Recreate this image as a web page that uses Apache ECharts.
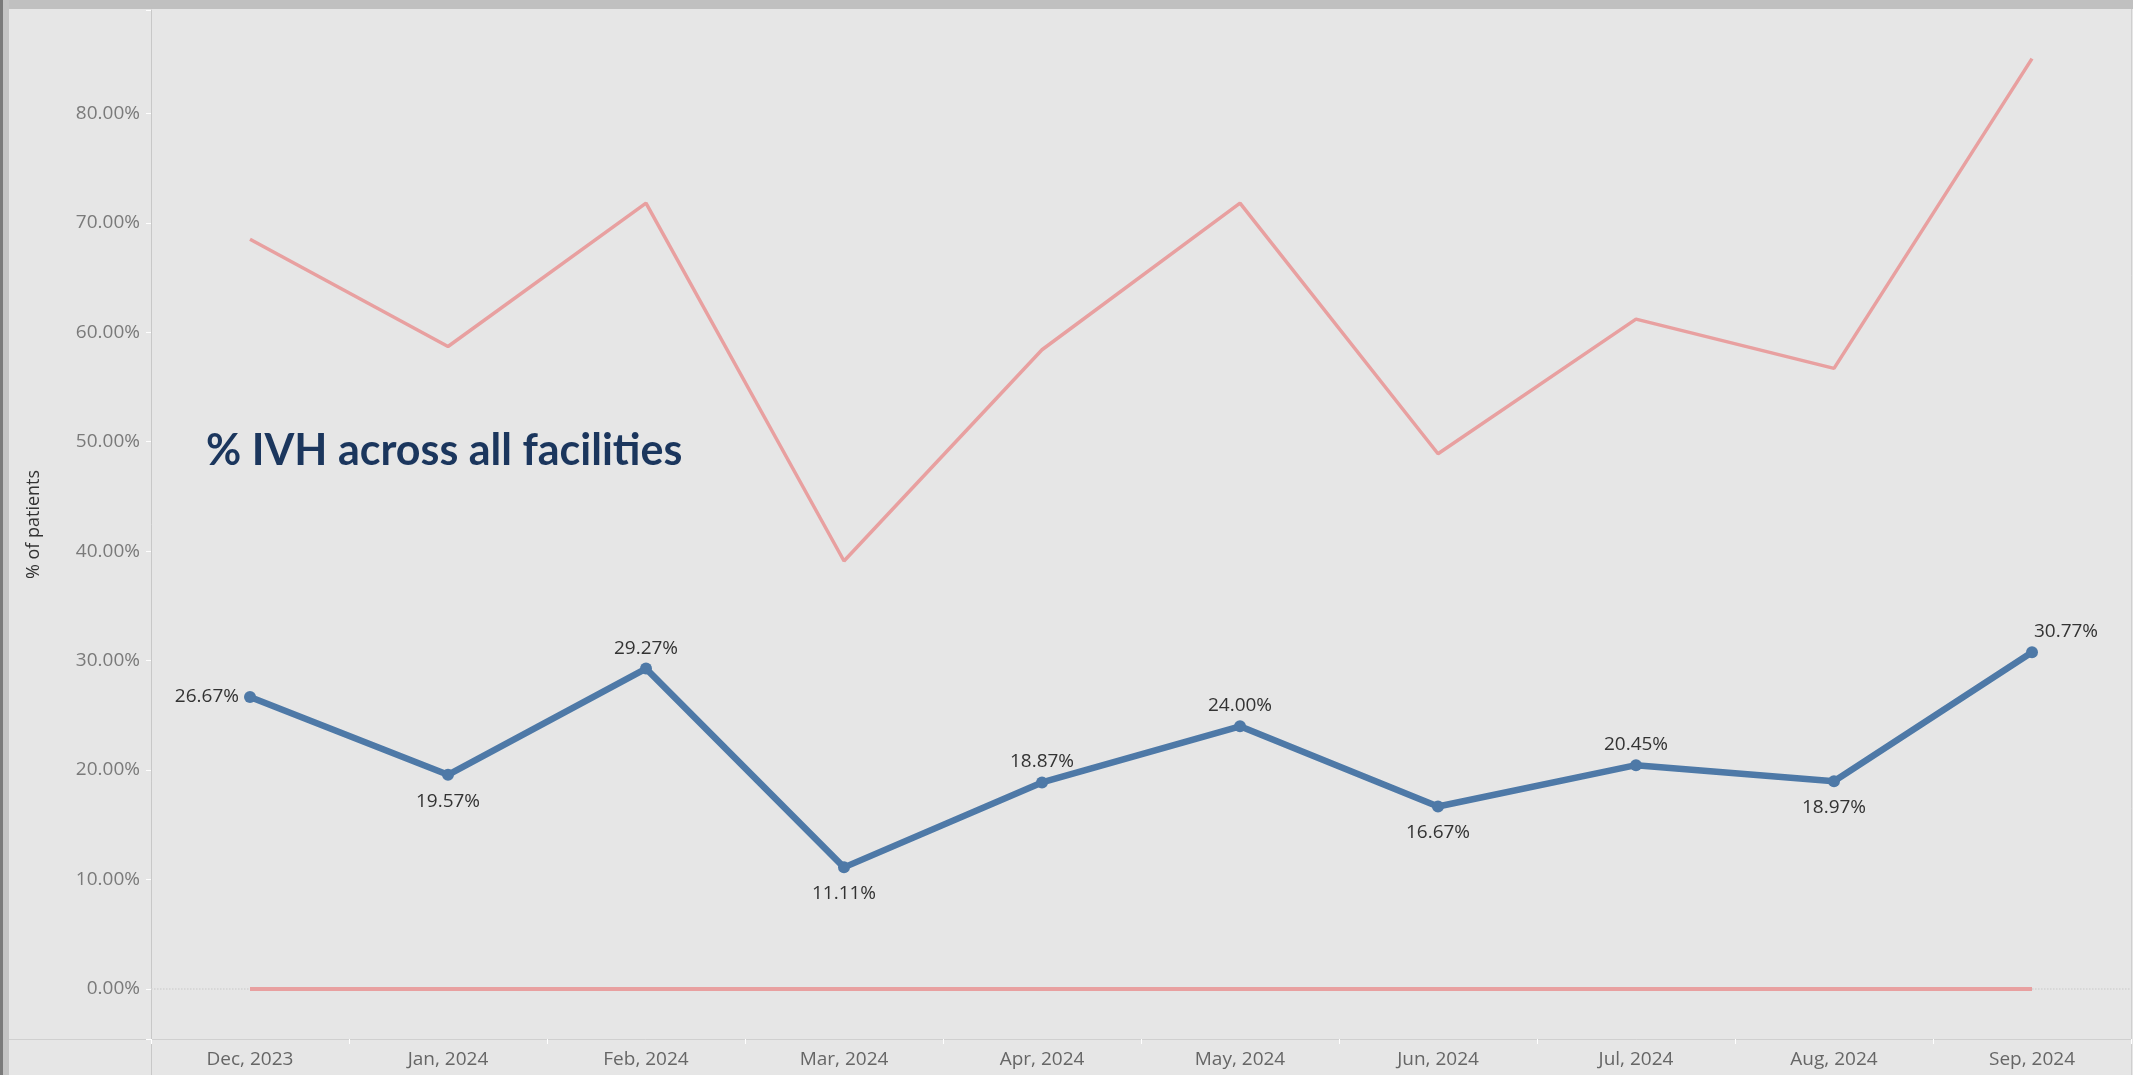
<!DOCTYPE html>
<html>
<head>
<meta charset="utf-8">
<title>% IVH across all facilities</title>
<script src="https://cdn.jsdelivr.net/npm/echarts@6/dist/echarts.min.js"></script>
<style>
    html, body { margin: 0; padding: 0; background: #e6e6e6; }
    #chart { width: 2133px; height: 1075px; }
</style>
</head>
<body>
<div id="chart"></div>
<script>
// 月份
var months = ['Dec, 2023', 'Jan, 2024', 'Feb, 2024', 'Mar, 2024', 'Apr, 2024',
              'May, 2024', 'Jun, 2024', 'Jul, 2024', 'Aug, 2024', 'Sep, 2024'];

// % IVH (blue line, labelled)
var ivhRate = [26.67, 19.57, 29.27, 11.11, 18.87, 24.00, 16.67, 20.45, 18.97, 30.77];

// upper / lower reference lines (red)
var upperRate = [68.5, 58.7, 71.8, 39.1, 58.4, 71.8, 48.9, 61.2, 56.7, 85.0];
var lowerRate = [0, 0, 0, 0, 0, 0, 0, 0, 0, 0];

// y axis tick labels
var yTicks = [0, 10, 20, 30, 40, 50, 60, 70, 80];

// where each blue label sits
var labelSide = ['left', 'bottom', 'top', 'bottom', 'top', 'top', 'bottom', 'top', 'bottom', 'top'];

var font = '"Open Sans", "DejaVu Sans", sans-serif';

var chart = echarts.init(document.getElementById('chart'));

var ivhData = ivhRate.map(function (v, i) {
    var side = labelSide[i];
    var lbl = { position: side, distance: side == 'bottom' ? 11 : 5 };
    if (i == ivhRate.length - 1) {
        lbl.offset = [34, 0];
    }
    return { value: v, label: lbl };
});

var option = {
    backgroundColor: '#e6e6e6',
    animation: false,
    grid: {
        left: 151,
        right: 2,
        top: 10,
        bottom: 36
    },
    xAxis: {
        type: 'category',
        data: months,
        boundaryGap: true,
        axisLine: { onZero: false, lineStyle: { color: '#d0d0d0', width: 1 } },
        axisTick: { show: true, length: 5, lineStyle: { color: '#ffffff', width: 1 } },
        axisLabel: { color: '#666666', fontSize: 19, fontFamily: font, margin: 11 }
    },
    yAxis: {
        type: 'value',
        min: -4.57,
        max: 89.44,
        splitNumber: 9,
        name: '% of patients',
        nameLocation: 'middle',
        nameRotate: 90,
        nameGap: 108,
        nameTextStyle: { color: '#333333', fontSize: 18, fontFamily: font },
        axisLine: { show: true, lineStyle: { color: '#c8c8c8', width: 1 } },
        axisTick: { show: true, length: 5, lineStyle: { color: '#ffffff', width: 1 } },
        splitLine: { show: false },
        axisLabel: {
            color: '#7a7a7a',
            fontSize: 19,
            fontFamily: font,
            margin: 11,
            formatter: function (v) {
                for (var i = 0; i < yTicks.length; i++) {
                    if (Math.abs(v - yTicks[i]) < 1e-6) return yTicks[i].toFixed(2) + '%';
                }
                return '';
            }
        }
    },
    graphic: [
        // 外框
        { type: 'rect', shape: { x: 0, y: 0, width: 2133, height: 9 }, style: { fill: '#c0c0c0' }, silent: true },
        { type: 'rect', shape: { x: 0, y: 0, width: 9, height: 1075 }, style: { fill: '#c4c4c4' }, silent: true },
        { type: 'rect', shape: { x: 0, y: 0, width: 3, height: 1075 }, style: { fill: '#7a7a7a' }, silent: true },
        { type: 'line', shape: { x1: 9, y1: 1039.5, x2: 151, y2: 1039.5 }, style: { stroke: '#d0d0d0', lineWidth: 1 }, silent: true },
        { type: 'line', shape: { x1: 151.5, y1: 1039, x2: 151.5, y2: 1075 }, style: { stroke: '#c8c8c8', lineWidth: 1 }, silent: true },
        { type: 'line', shape: { x1: 2131.5, y1: 9, x2: 2131.5, y2: 1075 }, style: { stroke: '#cfcfcf', lineWidth: 1 }, silent: true },
        {
            type: 'text',
            left: 206,
            top: 430,
            style: {
                text: '% IVH across all facilities',
                font: 'bold 43px Lato, "Open Sans", sans-serif',
                fill: '#1b365d'
            },
            silent: true
        }
    ],
    series: [
        {
            name: 'Lower',
            type: 'line',
            data: lowerRate,
            symbol: 'none',
            z: 2,
            lineStyle: { color: '#e8a0a0', width: 4 },
            markLine: {
                silent: true,
                symbol: 'none',
                label: { show: false },
                lineStyle: { color: '#d2d2d2', type: 'dotted', width: 1.5 },
                data: [{ yAxis: 0 }],
                z: 1
            }
        },
        {
            name: 'Upper',
            type: 'line',
            data: upperRate,
            symbol: 'none',
            z: 2,
            lineStyle: { color: '#e8a0a0', width: 3.5 }
        },
        {
            name: '% IVH',
            type: 'line',
            data: ivhData,
            symbol: 'circle',
            symbolSize: 12,
            z: 3,
            itemStyle: { color: '#4e79a7' },
            lineStyle: { color: '#4e79a7', width: 6.5 },
            label: {
                show: true,
                color: '#333333',
                fontSize: 19,
                fontFamily: font,
                formatter: function (p) { return p.value.toFixed(2) + '%'; }
            }
        }
    ]
};

chart.setOption(option);
</script>
</body>
</html>
